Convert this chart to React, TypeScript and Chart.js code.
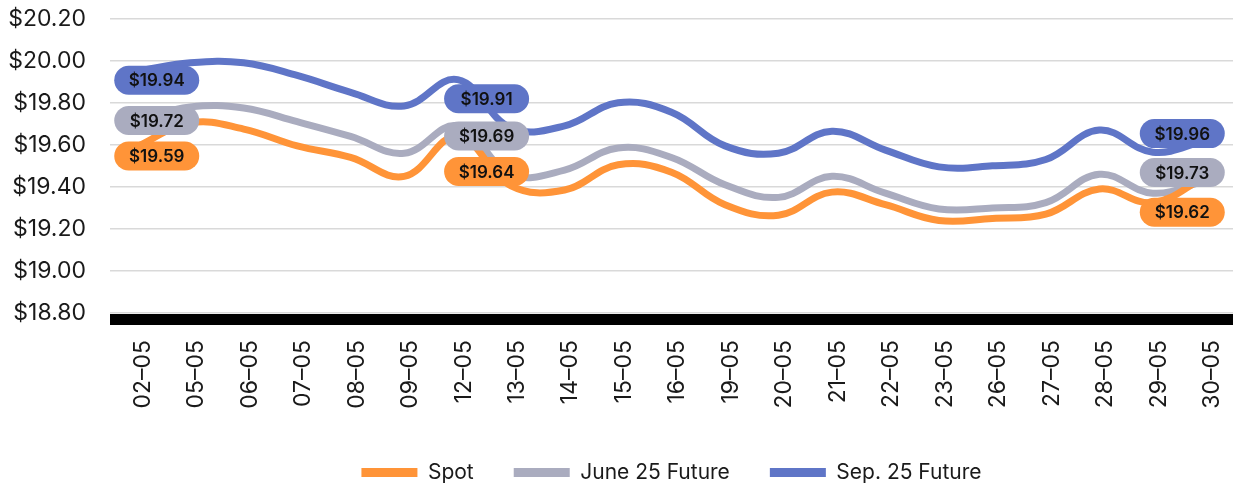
import React, { useEffect, useRef } from "react";
import { Chart, registerables } from "chart.js";

Chart.register(...registerables);

const categories = [
  "02–05", "05–05", "06–05", "07–05", "08–05", "09–05", "12–05", "13–05", "14–05", "15–05",
  "16–05", "19–05", "20–05", "21–05", "22–05", "23–05", "26–05", "27–05", "28–05", "29–05", "30–05",
];

const spotValues = [
  19.59, 19.705, 19.675, 19.595, 19.54, 19.45, 19.64, 19.405, 19.385, 19.505,
  19.47, 19.315, 19.265, 19.375, 19.315, 19.24, 19.25, 19.27, 19.39, 19.325, 19.45,
];
const juneValues = [
  19.72, 19.78, 19.775, 19.71, 19.64, 19.56, 19.69, 19.46, 19.48, 19.585,
  19.54, 19.41, 19.35, 19.45, 19.37, 19.295, 19.3, 19.325, 19.46, 19.37, 19.43,
];
const sepValues = [
  19.95, 19.99, 19.99, 19.93, 19.85, 19.785, 19.91, 19.68, 19.69, 19.8,
  19.755, 19.595, 19.56, 19.665, 19.575, 19.495, 19.5, 19.53, 19.67, 19.565, 19.62,
];

// labelled points and their label values
const labelIndices = [0, 6, 20];
const spotLabelValues = [19.59, 19.64, 19.62];
const juneLabelValues = [19.72, 19.69, 19.73];
const sepLabelValues = [19.94, 19.91, 19.96];

const yTicks = [18.8, 19.0, 19.2, 19.4, 19.6, 19.8, 20.0, 20.2];

const COLORS = {
  spot: "#FF9438",
  june: "#AAACBF",
  sep: "#5F75C7",
};

// label placement (style): per labelled index, dx and per-dataset dy
const labelPlacement = [
  { dx: 20, dy: [9, 1, 9] },
  { dx: 29, dy: [35, 10, 19] },
  { dx: -24, dy: [36, -8, -7] },
];

const FONT = "Inter, 'Noto Sans', sans-serif";

const labelPlugin = {
  id: "pillLabels",
  afterDatasetsDraw(chart: any) {
    const ctx = chart.ctx;
    const valueSets = [spotLabelValues, juneLabelValues, sepLabelValues];
    ctx.save();
    ctx.font = `600 17px ${FONT}`;
    ctx.textAlign = "center";
    ctx.textBaseline = "middle";
    labelIndices.forEach((idx, li) => {
      const place = labelPlacement[li];
      [2, 1, 0].forEach((di) => {
        const meta = chart.getDatasetMeta(di);
        const pt = meta.data[idx];
        if (!pt) return;
        const cx = pt.x + place.dx;
        const cy = pt.y + place.dy[di];
        const w = 85;
        const h = 29;
        ctx.fillStyle = chart.data.datasets[di].borderColor;
        ctx.beginPath();
        ctx.roundRect(cx - w / 2, cy - h / 2, w, h, h / 2);
        ctx.fill();
        ctx.fillStyle = "#111";
        ctx.fillText("$" + valueSets[di][li].toFixed(2), cx, cy + 1);
      });
    });
    ctx.restore();
  },
};

const axisBarPlugin = {
  id: "axisBar",
  beforeDatasetsDraw(chart: any) {
    const { ctx, chartArea } = chart;
    ctx.save();
    ctx.fillStyle = "#000";
    ctx.fillRect(chartArea.left, chartArea.bottom + 1, chartArea.right - chartArea.left, 11);
    ctx.restore();
  },
};

// fixes the legend block height so it sits at the bottom like the reference
const legendHeightPlugin = {
  id: "legendHeight",
  beforeLayout(chart: any) {
    const lg = chart.legend;
    if (lg && !lg.__patched) {
      const orig = lg.fit.bind(lg);
      lg.fit = function () {
        orig();
        this.height = 61;
      };
      lg.__patched = true;
    }
  },
};

export default function App() {
  const ref = useRef<HTMLCanvasElement | null>(null);

  useEffect(() => {
    if (!ref.current) return;
    const chart = new Chart(ref.current, {
      type: "line",
      data: {
        labels: categories,
        datasets: [
          {
            label: "Spot",
            data: spotValues,
            borderColor: COLORS.spot,
            backgroundColor: COLORS.spot,
            borderWidth: 7,
            tension: 0.4,
            pointRadius: 0,
          },
          {
            label: "June 25 Future",
            data: juneValues,
            borderColor: COLORS.june,
            backgroundColor: COLORS.june,
            borderWidth: 7,
            tension: 0.4,
            pointRadius: 0,
          },
          {
            label: "Sep. 25 Future",
            data: sepValues,
            borderColor: COLORS.sep,
            backgroundColor: COLORS.sep,
            borderWidth: 7,
            tension: 0.4,
            pointRadius: 0,
          },
        ],
      },
      options: {
        animation: false,
        responsive: false,
        layout: { padding: { top: 18.7, left: 0, right: 0, bottom: 0 } },
        scales: {
          x: {
            offset: true,
            grid: { display: false },
            border: { display: false },
            afterFit: (scale: any) => {
              scale.paddingLeft = 0;
              scale.paddingRight = 0;
              scale.height = 109;
            },
            ticks: {
              minRotation: 90,
              maxRotation: 90,
              padding: 19,
              labelOffset: 6,
              color: "#1a1a1a",
              font: { family: FONT, size: 23 },
              autoSkip: false,
            },
          },
          y: {
            min: yTicks[0],
            max: yTicks[yTicks.length - 1],
            afterBuildTicks: (scale: any) => {
              scale.ticks = yTicks.map((v) => ({ value: v }));
            },
            afterFit: (scale: any) => {
              scale.paddingTop = 0;
              scale.paddingBottom = 0;
              scale.width = 110;
            },
            grid: { color: "#D9D9D9", lineWidth: 1.5, drawTicks: false },
            border: { display: false },
            ticks: {
              padding: 24,
              color: "#1a1a1a",
              font: { family: FONT, size: 23 },
              callback: (v: any) => "$" + Number(v).toFixed(2),
            },
          },
        },
        plugins: {
          legend: {
            position: "bottom",
            fullSize: false,
            labels: {
              boxWidth: 56,
              boxHeight: 9,
              padding: 40,
              color: "#1a1a1a",
              font: { family: FONT, size: 21 },
              generateLabels: (c: any) =>
                Chart.defaults.plugins.legend.labels
                  .generateLabels(c)
                  .map((l: any) => ({ ...l, lineWidth: 0 })),
            },
          },
          tooltip: { enabled: false },
        },
      },
      plugins: [legendHeightPlugin, axisBarPlugin, labelPlugin],
    });
    return () => chart.destroy();
  }, []);

  return (
    <div style={{ position: "fixed", left: 0, top: 0, width: 1233, height: 483, background: "#fff" }}>
      <canvas ref={ref} width={1233} height={483} style={{ display: "block" }} />
    </div>
  );
}
